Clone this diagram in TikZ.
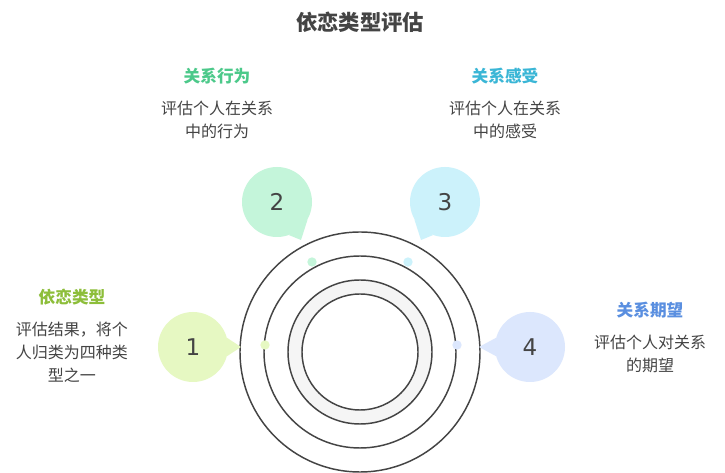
\documentclass[tikz,border=0pt]{standalone}
\usepackage{fontspec}
\usetikzlibrary{positioning}
\setmainfont{Noto Sans CJK SC}
\newfontfamily\numfont{DejaVu Sans}
\definecolor{cgA}{HTML}{E6F8C2}
\definecolor{cgB}{HTML}{C4F5DA}
\definecolor{cgC}{HTML}{CCF2FB}
\definecolor{cgD}{HTML}{DCE7FD}
\definecolor{tA}{HTML}{8DBE3A}
\definecolor{tB}{HTML}{4CC98A}
\definecolor{tC}{HTML}{3AB6D6}
\definecolor{tD}{HTML}{5A8FE0}
\definecolor{ink}{HTML}{444444}
\tikzset{
  bubble/.style={circle,minimum size=52.5pt,inner sep=0pt,font=\numfont\LARGE,text=ink},
  dotmark/.style={circle,minimum size=7pt,inner sep=0pt},
  head/.style={font=\bfseries\fontsize{12.5}{15}\selectfont},
  body/.style={font=\fontsize{12}{17}\selectfont,text=ink,align=center,text width=115pt},
  ring/.style={draw=ink,line width=1.1pt}
}
\begin{document}
\begin{tikzpicture}[x=0.75pt,y=-0.75pt]
\useasboundingbox (0,0) rectangle (725,473);
\fill[white] (0,0) rectangle (725,473);
% rings
\coordinate (c) at (360,352);
\draw[ring] (c) circle (120);
\draw[ring] (c) circle (96);
\draw[ring,fill=gray!8] (c) circle (72);
\draw[ring,fill=white] (c) circle (58);
% dots on the middle ring
\node[dotmark,fill=cgA] (d1) at (265,345) {};
\node[dotmark,fill=cgB] (d2) at (312,262) {};
\node[dotmark,fill=cgC] (d3) at (408,262) {};
\node[dotmark,fill=cgD] (d4) at (457,345) {};
% bubbles
\node[bubble,fill=cgA] (b1) at (193,347) {1};
\node[bubble,fill=cgB] (b2) at (277,202) {2};
\node[bubble,fill=cgC] (b3) at (445,202) {3};
\node[bubble,fill=cgD] (b4) at (530,347) {4};
\fill[cgA] (b1.15) -- (241,347) -- (b1.-15) -- cycle;
\fill[cgB] (b2.-30) -- (301,240) -- (b2.-70) -- cycle;
\fill[cgC] (b3.-110) -- (421,240) -- (b3.-150) -- cycle;
\fill[cgD] (b4.165) -- (479,347) -- (b4.195) -- cycle;
% texts
\node[font=\bfseries\fontsize{16}{19}\selectfont,text=ink] (title) at (360,22) {依恋类型评估};
\node[head,text=tB] (h2) at (217,76) {关系行为};
\node[body,below=6pt of h2] (t2) {评估个人在关系\\中的行为};
\node[head,text=tC] (h3) at (505,76) {关系感受};
\node[body,below=6pt of h3] (t3) {评估个人在关系\\中的感受};
\node[head,text=tA] (h1) at (72,297) {依恋类型};
\node[body,below=6pt of h1] (t1) {评估结果，将个\\人归类为四种类\\型之一};
\node[head,text=tD] (h4) at (650,310) {关系期望};
\node[body,below=6pt of h4] (t4) {评估个人对关系\\的期望};
\end{tikzpicture}
\end{document}
